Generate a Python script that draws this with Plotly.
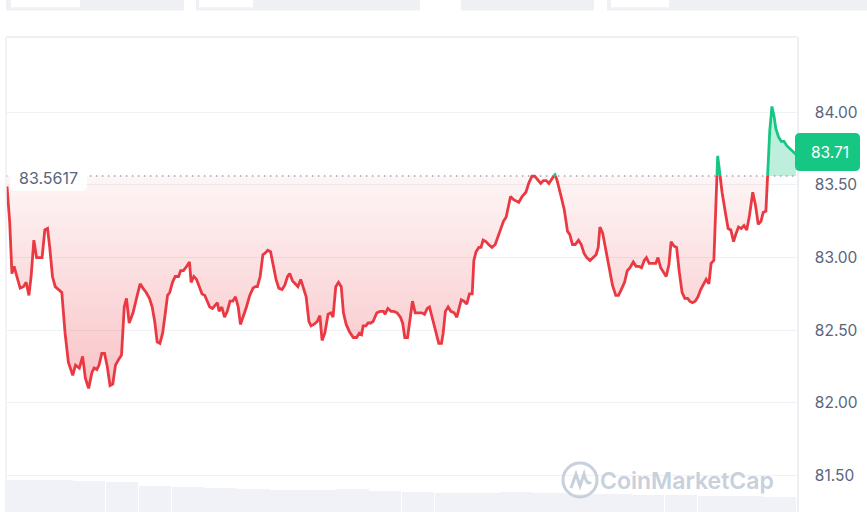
import plotly.graph_objects as go

# ---------------- data ----------------
base_price = 83.5617
last_price = 83.71

minutes = [0, 5, 9, 13, 18, 24, 30, 35, 40, 44, 49, 54, 59, 64, 69, 74, 78, 83, 88, 95,
           100, 106, 112, 120, 125, 132, 138, 143, 149, 155, 159, 164, 168, 173, 178, 183, 188, 193, 198, 204,
           209, 214, 218, 223, 230, 237,
           243, 248, 254, 260, 265, 270, 274, 279, 284, 289, 293, 297, 302, 307, 313, 317, 322, 328, 333, 336,
           341, 346, 351, 356, 361, 366, 370, 375, 380, 384, 387, 392, 397, 402, 407, 412, 417, 422, 426, 431,
           437, 443, 449, 453, 457, 462, 467, 471,
           476, 481, 486, 491, 496, 502, 507, 512, 516, 521, 526, 531, 536, 541, 546, 551, 555, 560, 566, 571,
           575, 580, 586, 591, 595, 600, 605, 610, 614, 619, 625, 632, 638, 643, 647, 650, 655, 659, 664, 668,
           675, 681, 687, 690, 695, 701, 706,
           712, 718, 722, 726, 731, 735, 740, 745, 751, 757, 762, 767, 771, 776, 782, 788, 793, 796, 800, 805,
           810, 816, 821, 825, 829, 834, 839, 844, 849, 852, 856, 861, 865, 869, 874, 879, 885, 891, 896, 900,
           906, 911, 916, 919, 924, 929, 934, 940,
           947, 952, 958, 963, 968, 974, 979, 984, 989, 995, 1000, 1004, 1010, 1017, 1023, 1027, 1032, 1037, 1043, 1048,
           1053, 1058, 1064, 1070, 1075, 1079, 1082, 1087, 1093, 1099, 1105, 1111, 1116, 1121, 1127, 1132, 1137, 1143, 1148, 1153,
           1158, 1163, 1167, 1172, 1177,
           1184, 1188, 1193, 1198, 1203, 1208, 1212, 1217, 1222, 1227, 1232, 1237, 1242, 1246, 1251, 1256, 1261, 1266, 1271, 1276,
           1281, 1285, 1290, 1297, 1305, 1311, 1316, 1321, 1326, 1330, 1335, 1340, 1345, 1350, 1355, 1361, 1366, 1371, 1376, 1380,
           1385, 1392, 1396, 1400, 1403, 1408, 1413, 1418, 1423, 1429, 1435, 1440]

prices = [83.49, 83.24, 82.89, 82.94, 82.87, 82.79, 82.80, 82.83, 82.74, 82.87, 83.12, 83.00, 83.00, 83.00, 83.19, 83.20, 83.07, 82.87, 82.80, 82.78,
          82.76, 82.48, 82.28, 82.19, 82.26, 82.24, 82.32, 82.17, 82.10, 82.21, 82.24, 82.23, 82.26, 82.34, 82.34, 82.25, 82.12, 82.13, 82.26, 82.30,
          82.33, 82.66, 82.72, 82.55, 82.62, 82.73,
          82.82, 82.79, 82.76, 82.72, 82.66, 82.55, 82.42, 82.41, 82.48, 82.62, 82.74, 82.76, 82.83, 82.87, 82.87, 82.91, 82.91, 82.94, 82.97, 82.83,
          82.87, 82.85, 82.80, 82.75, 82.74, 82.69, 82.66, 82.65, 82.67, 82.69, 82.63, 82.66, 82.59, 82.63, 82.70, 82.70, 82.73, 82.66, 82.54, 82.59,
          82.66, 82.74, 82.79, 82.80, 82.80, 82.87, 83.02, 83.03,
          83.05, 83.04, 82.94, 82.85, 82.79, 82.78, 82.81, 82.87, 82.89, 82.84, 82.82, 82.80, 82.85, 82.79, 82.73, 82.56, 82.53, 82.54, 82.56, 82.60,
          82.43, 82.48, 82.61, 82.62, 82.59, 82.80, 82.83, 82.80, 82.62, 82.54, 82.49, 82.45, 82.45, 82.48, 82.47, 82.53, 82.53, 82.55, 82.55, 82.56,
          82.62, 82.63, 82.63, 82.61, 82.65, 82.63, 82.63,
          82.62, 82.59, 82.55, 82.45, 82.45, 82.57, 82.70, 82.62, 82.62, 82.62, 82.61, 82.65, 82.66, 82.59, 82.49, 82.41, 82.41, 82.48, 82.63, 82.66,
          82.63, 82.62, 82.59, 82.65, 82.71, 82.70, 82.68, 82.75, 82.75, 82.98, 83.04, 83.07, 83.07, 83.12, 83.11, 83.09, 83.07, 83.09, 83.14, 83.19,
          83.25, 83.28, 83.38, 83.42, 83.40, 83.39, 83.38, 83.42,
          83.45, 83.51, 83.56, 83.56, 83.54, 83.51, 83.53, 83.53, 83.51, 83.55, 83.57, 83.53, 83.44, 83.33, 83.18, 83.16, 83.09, 83.09, 83.12, 83.09,
          83.03, 83.00, 82.98, 83.00, 83.02, 83.07, 83.21, 83.17, 83.05, 82.91, 82.81, 82.74, 82.74, 82.78, 82.83, 82.91, 82.93, 82.97, 82.94, 82.94,
          82.93, 82.98, 83.00, 82.96, 82.96,
          82.96, 83.00, 82.93, 82.90, 82.87, 82.95, 83.11, 83.08, 83.07, 82.90, 82.76, 82.72, 82.72, 82.70, 82.69, 82.70, 82.73, 82.78, 82.82, 82.85,
          82.82, 82.96, 82.98, 83.70, 83.45, 83.31, 83.20, 83.19, 83.11, 83.16, 83.21, 83.20, 83.22, 83.19, 83.29, 83.45, 83.36, 83.23, 83.25, 83.31,
          83.32, 83.87, 84.04, 83.97, 83.89, 83.83, 83.80, 83.80, 83.77, 83.75, 83.73, 83.71]

volume_hours = list(range(24))
volumes = [6.7, 6.8, 6.5, 6.3, 5.5, 5.3, 5.1, 4.8, 4.6, 4.6, 4.8, 4.4,
           4.2, 4.0, 4.0, 4.2, 4.0, 3.8, 3.8, 3.6, 3.6, 3.4, 3.4, 3.2]

tick_vals = [81.5, 82.0, 82.5, 83.0, 83.5, 84.0]
tick_text = ["81.50", "82.00", "82.50", "83.00", "83.50", "84.00"]

# ---------------- styles ----------------
RED = "#ea3943"
GREEN = "#16c784"
GRID = "#eff2f5"
LABEL = "#58667e"
FONT = "Inter, Roboto, sans-serif"

W, H = 867, 512
L, R, T, B = 6, 70, 37, 0
PW, PH = W - L - R, H - T - B


def px(x):
    return (x - L) / PW


def py(y):
    return (H - B - y) / PH


# insert baseline crossings
t2, v2 = [], []
for i, (t, v) in enumerate(zip(minutes, prices)):
    if i > 0:
        pv = prices[i - 1]
        if (pv - base_price) * (v - base_price) < 0:
            f = (base_price - pv) / (v - pv)
            t2.append(minutes[i - 1] + f * (t - minutes[i - 1]))
            v2.append(base_price)
    t2.append(t)
    v2.append(v)

red_fill = [min(v, base_price) for v in v2]
green_fill = [max(v, base_price) for v in v2]
red_line = [v if v <= base_price + 1e-9 else None for v in v2]
green_line = [v if v >= base_price - 1e-9 else None for v in v2]
base_line = [base_price] * len(t2)

fig = go.Figure()

# volume bars
fig.add_trace(go.Bar(x=[h * 60 + 30 for h in volume_hours], y=volumes, width=59.5,
                     marker=dict(color="#f0f2f7", line=dict(width=0)), yaxis="y2",
                     hoverinfo="skip", showlegend=False))

# red fill
fig.add_trace(go.Scatter(x=t2, y=base_line, mode="lines", line=dict(width=0),
                         hoverinfo="skip", showlegend=False))
fig.add_trace(go.Scatter(x=t2, y=red_fill, mode="lines", line=dict(width=0), fill="tonexty",
                         fillgradient=dict(type="vertical", start=82.1, stop=base_price,
                                           colorscale=[[0, "rgba(234,57,67,0.30)"],
                                                       [1, "rgba(234,57,67,0.05)"]]),
                         hoverinfo="skip", showlegend=False))
# green fill
fig.add_trace(go.Scatter(x=t2, y=base_line, mode="lines", line=dict(width=0),
                         hoverinfo="skip", showlegend=False))
fig.add_trace(go.Scatter(x=t2, y=green_fill, mode="lines", line=dict(width=0), fill="tonexty",
                         fillcolor="rgba(22,199,132,0.28)", hoverinfo="skip", showlegend=False))

# baseline dotted line
fig.add_trace(go.Scatter(x=[-2, 1442], y=[base_price, base_price], mode="lines",
                         line=dict(color="#9aa4b5", width=1.5, dash="1.5px,4.5px"),
                         hoverinfo="skip", showlegend=False))

# price lines
fig.add_trace(go.Scatter(x=t2, y=red_line, mode="lines", line=dict(color=RED, width=2.8),
                         connectgaps=False, showlegend=False))
fig.add_trace(go.Scatter(x=t2, y=green_line, mode="lines", line=dict(color=GREEN, width=2.8),
                         connectgaps=False, showlegend=False))

y_lo = 84.0 - (H - 112.3) / 145.3
y_hi = 84.0 + (112.3 - T) / 145.3
x_lo = (L - 7) * 1.825
x_hi = (L + PW - 7) * 1.825

shapes = []
# chart frame (top, left)
shapes.append(dict(type="line", xref="paper", yref="paper", x0=0, x1=1, y0=1, y1=1,
                   line=dict(color="#e9ecf0", width=1.5)))
shapes.append(dict(type="line", xref="paper", yref="paper", x0=0, x1=0, y0=0, y1=1,
                   line=dict(color="#eceff3", width=1.5)))
# top tabs (cropped UI)
for x0, x1 in [(6, 184), (196, 420), (461, 594), (607, 870)]:
    shapes.append(dict(type="rect", xref="paper", yref="paper", x0=px(x0), x1=px(x1),
                       y0=py(10.5), y1=py(-2), fillcolor="#eef0f4", line=dict(width=0), layer="above"))
for x0, x1 in [(11, 80), (199, 253), (611, 669)]:
    shapes.append(dict(type="rect", xref="paper", yref="paper", x0=px(x0), x1=px(x1),
                       y0=py(7.3), y1=py(-2), fillcolor="#ffffff", line=dict(width=0), layer="above"))


def rounded_rect(x0, y0, x1, y1, r):
    return (f"M {px(x0 + r)} {py(y0)} L {px(x1 - r)} {py(y0)} Q {px(x1)} {py(y0)} {px(x1)} {py(y0 + r)} "
            f"L {px(x1)} {py(y1 - r)} Q {px(x1)} {py(y1)} {px(x1 - r)} {py(y1)} "
            f"L {px(x0 + r)} {py(y1)} Q {px(x0)} {py(y1)} {px(x0)} {py(y1 - r)} "
            f"L {px(x0)} {py(y0 + r)} Q {px(x0)} {py(y0)} {px(x0 + r)} {py(y0)} Z")


# current price tag (rounded)
shapes.append(dict(type="path", xref="paper", yref="paper", path=rounded_rect(795, 133, 860, 171, 5),
                   fillcolor=GREEN, line=dict(width=0), layer="above"))
# baseline label box
shapes.append(dict(type="path", xref="paper", yref="paper", path=rounded_rect(10, 166, 87, 191, 6),
                   fillcolor="rgba(255,255,255,0.92)", line=dict(width=0), layer="above"))
# watermark logo
shapes.append(dict(type="circle", xref="paper", yref="paper", x0=px(563), x1=px(597), y0=py(497), y1=py(463),
                   line=dict(color="#c8d0dc", width=3), layer="above"))
shapes.append(dict(type="path", xref="paper", yref="paper",
                   path=(f"M {px(571)} {py(488)} L {px(576)} {py(474)} L {px(580)} {py(486)} "
                         f"L {px(584)} {py(474)} Q {px(587)} {py(486)} {px(591)} {py(482)}"),
                   line=dict(color="#c8d0dc", width=3), layer="above"))

annotations = [
    dict(xref="paper", yref="paper", x=px(48), y=py(178.5), text="83.5617", showarrow=False,
         font=dict(family=FONT, size=16, color=LABEL), xanchor="center", yanchor="middle"),
    dict(xref="paper", yref="paper", x=px(830), y=py(152), text=f"{last_price:.2f}", showarrow=False,
         font=dict(family=FONT, size=15.5, color="#ffffff"), xanchor="center", yanchor="middle"),
    dict(xref="paper", yref="paper", x=px(687), y=py(481), text="CoinMarketCap", showarrow=False,
         font=dict(family=FONT, size=23, color="#c8d0dc", weight=600), xanchor="center", yanchor="middle"),
]

fig.update_layout(
    width=W, height=H,
    margin=dict(l=L, r=R, t=T, b=B, pad=0),
    paper_bgcolor="#ffffff", plot_bgcolor="#ffffff",
    showlegend=False, bargap=0,
    xaxis=dict(range=[x_lo, x_hi], showgrid=False, zeroline=False, showticklabels=False,
               showline=False, fixedrange=True),
    yaxis=dict(range=[y_lo, y_hi], side="right", tickvals=tick_vals, ticktext=tick_text,
               showgrid=True, gridcolor=GRID, gridwidth=1, zeroline=False,
               showline=True, linecolor="#eceff3", linewidth=1.5,
               ticks="outside", ticklen=13, tickcolor="rgba(0,0,0,0)",
               tickfont=dict(family=FONT, size=15.5, color=LABEL)),
    yaxis2=dict(range=[0, 100], overlaying="y", visible=False, fixedrange=True),
    shapes=shapes,
    annotations=annotations,
)

fig.write_html("out.html", config={"displayModeBar": False},
               post_script="document.body.style.margin='0';document.body.style.overflow='hidden';")
